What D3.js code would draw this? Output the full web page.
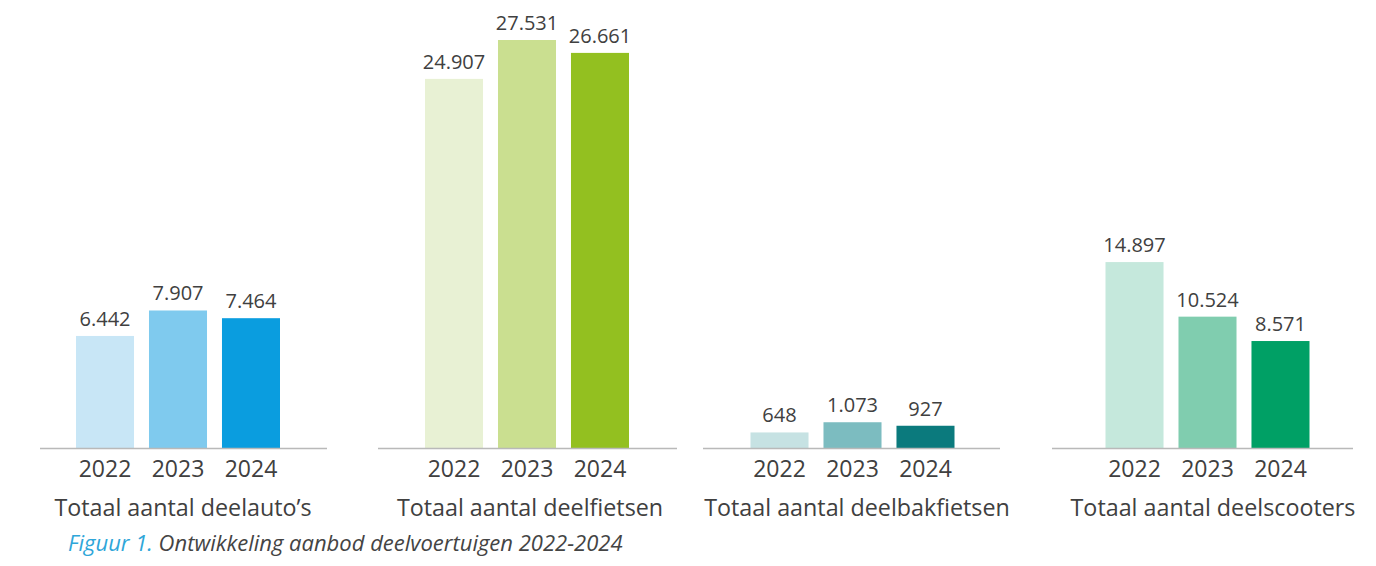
<!DOCTYPE html>
<html>
<head>
<meta charset="utf-8">
<script src="https://cdn.jsdelivr.net/npm/d3@7"></script>
<style>
  html, body { margin: 0; padding: 0; background: #fff; }
  svg { display: block; }
  text { font-family: "Open Sans", sans-serif; }
</style>
</head>
<body>
<svg id="chart" width="1376" height="566"></svg>
<script>
// ---- data ----
const years = ["2022", "2023", "2024"];
const categories = ["Totaal aantal deelauto’s", "Totaal aantal deelfietsen", "Totaal aantal deelbakfietsen", "Totaal aantal deelscooters"];
const deelautos = [6442, 7907, 7464];
const deelfietsen = [24907, 27531, 26661];
const deelbakfietsen = [648, 1073, 927];
const deelscooters = [14897, 10524, 8571];
const valueLabels = [
  ["6.442", "7.907", "7.464"],
  ["24.907", "27.531", "26.661"],
  ["648", "1.073", "927"],
  ["14.897", "10.524", "8.571"]
];
const captionPrefix = "Figuur 1.";
const captionText = " Ontwikkeling aanbod deelvoertuigen 2022-2024";

// ---- layout / style ----
const series = [deelautos, deelfietsen, deelbakfietsen, deelscooters];
const axisMax = [23460, 27531, 17000, 32690]; // each panel has its own scale
const panelAxis = [[40, 327], [378, 677], [703, 1000], [1052, 1353]];
const groupCenter = [178, 527, 852.5, 1207.5];
const labelCenter = [183, 530, 857, 1213];
const palettes = [
  ["#c8e6f6", "#7fcaee", "#0a9ddf"],
  ["#e8f1d4", "#cadf90", "#93c020"],
  ["#c6e2e3", "#7cbcc0", "#0b7a7d"],
  ["#c5e8dc", "#80cdaf", "#00a065"]
];
const baseY = 448, topY = 40;
const groupWidth = 204;

const svg = d3.select("#chart");
const textColor = "#404040";

series.forEach((vals, i) => {
  const g = svg.append("g");
  const x = d3.scaleBand().domain(years)
    .range([groupCenter[i] - groupWidth / 2, groupCenter[i] + groupWidth / 2])
    .paddingInner(0.205).paddingOuter(0);
  const y = d3.scaleLinear().domain([0, axisMax[i]]).range([baseY, topY]);
  const color = d3.scaleOrdinal().domain(years).range(palettes[i]);

  g.selectAll("rect").data(years).join("rect")
    .attr("x", d => x(d))
    .attr("width", x.bandwidth())
    .attr("y", (d, j) => y(vals[j]))
    .attr("height", (d, j) => baseY - y(vals[j]))
    .attr("fill", d => color(d));

  g.selectAll("text.val").data(years).join("text")
    .attr("class", "val")
    .attr("x", d => x(d) + x.bandwidth() / 2)
    .attr("y", (d, j) => y(vals[j]) - 10)
    .attr("text-anchor", "middle")
    .attr("font-size", 20)
    .attr("fill", textColor)
    .text((d, j) => valueLabels[i][j]);

  // baseline
  g.append("line")
    .attr("x1", panelAxis[i][0]).attr("x2", panelAxis[i][1])
    .attr("y1", baseY + 0.5).attr("y2", baseY + 0.5)
    .attr("stroke", "#b9b9b9").attr("stroke-width", 1.5);

  // year axis labels (via d3 axis)
  const ax = g.append("g").attr("transform", `translate(0,${baseY})`)
    .call(d3.axisBottom(x).tickSize(0).tickPadding(13));
  ax.select(".domain").remove();
  ax.selectAll("text").attr("font-size", 23).attr("fill", textColor)
    .attr("font-family", "'Open Sans', sans-serif");

  g.append("text")
    .attr("x", labelCenter[i])
    .attr("y", 516)
    .attr("text-anchor", "middle")
    .attr("font-size", 23.3)
    .attr("fill", textColor)
    .text(categories[i]);
});

const cap = svg.append("text").attr("x", 68).attr("y", 551)
  .attr("font-size", 22).attr("font-style", "italic");
cap.append("tspan").attr("fill", "#2fa6d9").text(captionPrefix);
cap.append("tspan").attr("fill", "#444").text(captionText);
</script>
</body>
</html>
